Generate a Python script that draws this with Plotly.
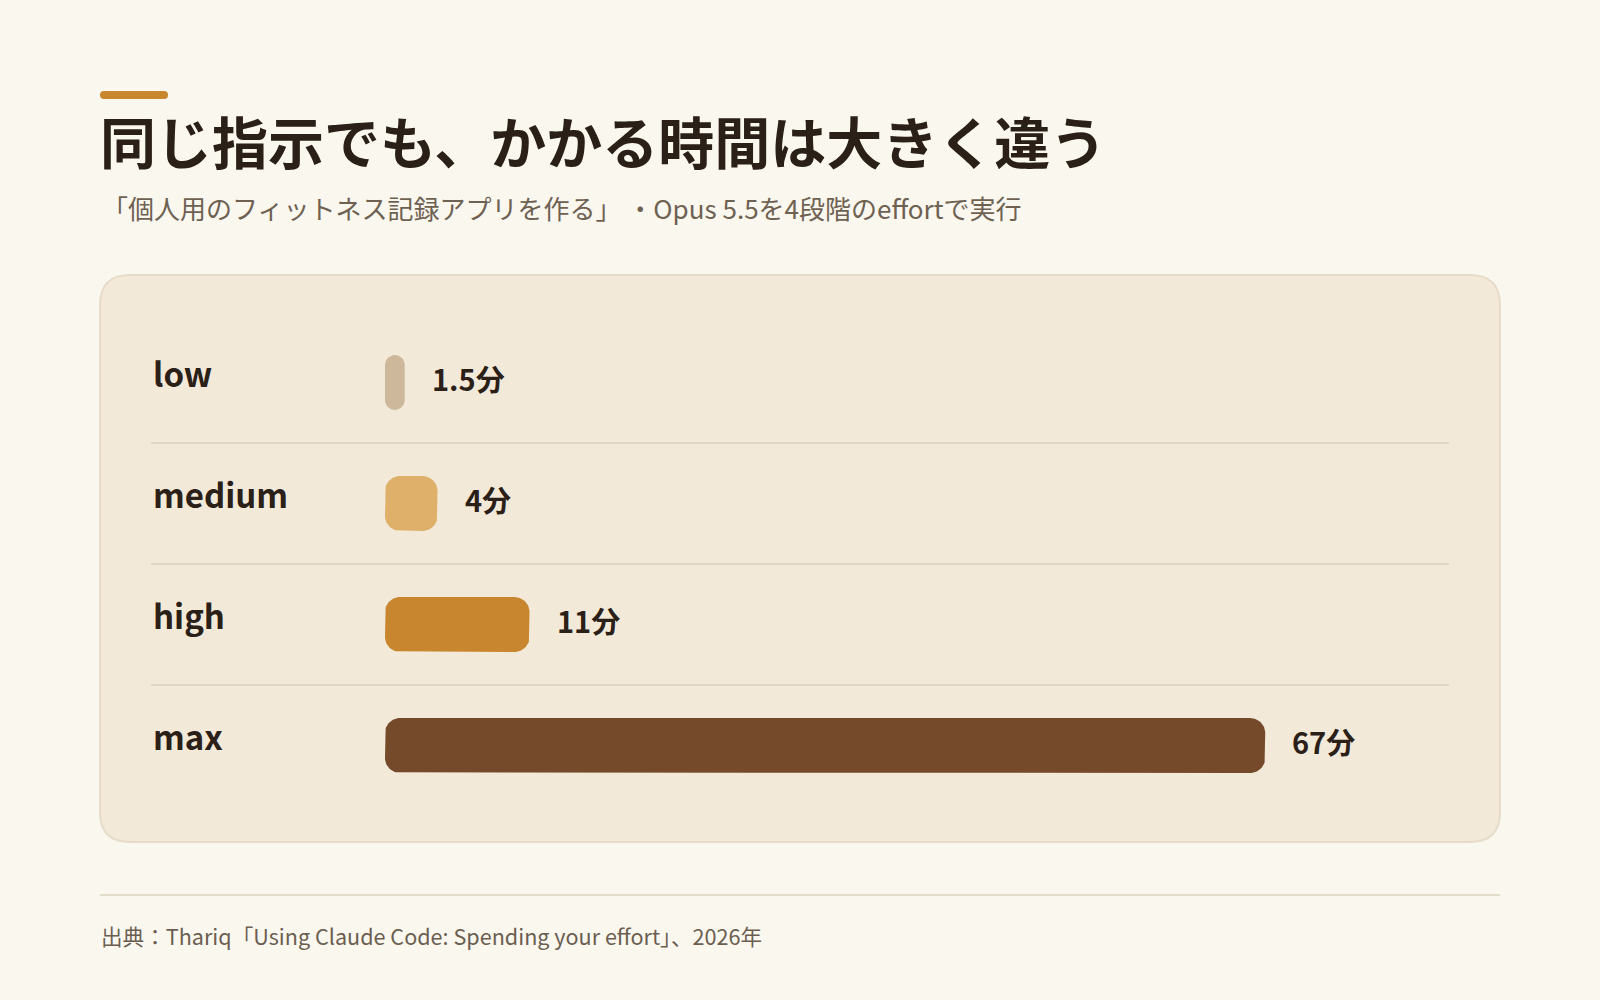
import math
import plotly.graph_objects as go

# ---- data ----
categories = ["low", "medium", "high", "max"]
minutes = [1.5, 4, 11, 67]
value_labels = ["1.5分", "4分", "11分", "67分"]
bar_colors = ["#cdb89c", "#dfb06a", "#c8862e", "#744a2a"]

title_text = "同じ指示でも、かかる時間は大きく違う"
subtitle_text = "「個人用のフィットネス記録アプリを作る」 ・Opus 5.5を4段階のeffortで実行"
source_text = "出典：Thariq「Using Claude Code: Spending your effort」、2026年"

# ---- layout geometry (pixels) ----
W, H = 1600, 1000
ML, MR, MT, MB = 385, 164, 322, 194
PW = W - ML - MR
PH = H - MT - MB
XMAX = 80
PX_PER_UNIT = PW / XMAX
PY_PER_UNIT = PH / len(categories)
BAR_PX = 55
CORNER_PX = 15

FONT = "Noto Sans CJK JP"
DARK = "#2a2017"


def xp(px):
    return (px - ML) / PW


def yp(py):
    return (H - MB - py) / PH


def rounded_rect(x0, y0, x1, y1, r):
    pts = [
        ("M", [(x0 + r, y0)]),
        ("L", [(x1 - r, y0)]),
        ("Q", [(x1, y0), (x1, y0 + r)]),
        ("L", [(x1, y1 - r)]),
        ("Q", [(x1, y1), (x1 - r, y1)]),
        ("L", [(x0 + r, y1)]),
        ("Q", [(x0, y1), (x0, y1 - r)]),
        ("L", [(x0, y0 + r)]),
        ("Q", [(x0, y0), (x0 + r, y0)]),
    ]
    s = ""
    for cmd, ps in pts:
        s += cmd + " " + " ".join(f"{xp(a):.5f},{yp(b):.5f}" for a, b in ps) + " "
    return s + "Z"


def pill(value, row):
    """Rounded bar outline from 0 to value, in data units of the axes."""
    length_px = value * PX_PER_UNIT
    r = min(CORNER_PX, length_px / 2, BAR_PX / 2)
    rx = r / PX_PER_UNIT
    ry = r / PY_PER_UNIT
    h = BAR_PX / PY_PER_UNIT / 2
    corners = [
        (value - rx, row - h + ry, -90, 0),
        (value - rx, row + h - ry, 0, 90),
        (0 + rx, row + h - ry, 90, 180),
        (0 + rx, row - h + ry, 180, 270),
    ]
    xs, ys = [], []
    n = 16
    for cx, cy, a0, a1 in corners:
        for k in range(n + 1):
            t = math.radians(a0 + (a1 - a0) * k / n)
            xs.append(cx + rx * math.cos(t))
            ys.append(cy + ry * math.sin(t))
    xs.append(xs[0])
    ys.append(ys[0])
    return xs, ys


fig = go.Figure()

for i, (cat, v, col) in enumerate(zip(categories, minutes, bar_colors)):
    xs, ys = pill(v, i)
    fig.add_trace(go.Scatter(
        x=xs, y=ys, mode="lines", fill="toself", fillcolor=col,
        line=dict(width=0, color=col), hoverinfo="skip", showlegend=False,
        name=cat,
    ))

shapes = [
    # panel
    dict(type="path", xref="paper", yref="paper",
         path=rounded_rect(100, 275, 1500, 842, 30),
         fillcolor="#f2e9d8", line=dict(color="#e6dcc9", width=2), layer="below"),
    # accent bar
    dict(type="path", xref="paper", yref="paper",
         path=rounded_rect(100, 91, 168, 99, 4),
         fillcolor="#c8862e", line=dict(width=0), layer="below"),
    # footer line
    dict(type="line", xref="paper", yref="paper",
         x0=xp(100), x1=xp(1500), y0=yp(895), y1=yp(895),
         line=dict(color="#e2dccb", width=2), layer="below"),
]
for k in range(len(categories) - 1):
    shapes.append(dict(type="line", xref="paper", yref="y",
                       x0=xp(151), x1=xp(1449), y0=k + 0.5, y1=k + 0.5,
                       line=dict(color="#e1d6c3", width=2), layer="below"))

annotations = [
    dict(text=title_text, xref="paper", yref="paper", x=xp(98), y=yp(139),
         xanchor="left", yanchor="middle", showarrow=False,
         font=dict(family=FONT, size=56, color=DARK, weight=700)),
    dict(text=subtitle_text, xref="paper", yref="paper", x=xp(100), y=yp(207),
         xanchor="left", yanchor="middle", showarrow=False,
         font=dict(family=FONT, size=26, color="#6e6152")),
    dict(text=source_text, xref="paper", yref="paper", x=xp(99), y=yp(935),
         xanchor="left", yanchor="middle", showarrow=False,
         font=dict(family=FONT, size=21.6, color="#6b5e50")),
]
for i, (cat, v, lab) in enumerate(zip(categories, minutes, value_labels)):
    annotations.append(dict(text=cat, xref="paper", yref="y", x=xp(151), y=i,
                            yshift=10, xanchor="left", yanchor="middle", showarrow=False,
                            font=dict(family=FONT, size=33, color=DARK, weight=700)))
    annotations.append(dict(text=lab, xref="x", yref="y", x=v, y=i, xshift=25,
                            yshift=5, xanchor="left", yanchor="middle", showarrow=False,
                            font=dict(family=FONT, size=29, color=DARK, weight=700)))

fig.update_layout(
    width=W, height=H,
    margin=dict(l=ML, r=MR, t=MT, b=MB),
    paper_bgcolor="#faf7ef", plot_bgcolor="rgba(0,0,0,0)",
    xaxis=dict(range=[0, XMAX], visible=False, fixedrange=True),
    yaxis=dict(range=[len(categories) - 0.5, -0.5], visible=False, fixedrange=True),
    shapes=shapes, annotations=annotations,
    showlegend=False, hovermode=False,
)

fig.write_html(
    "out.html",
    config={"displayModeBar": False},
    post_script="document.body.style.margin='0';document.body.style.background='#faf7ef';",
)
